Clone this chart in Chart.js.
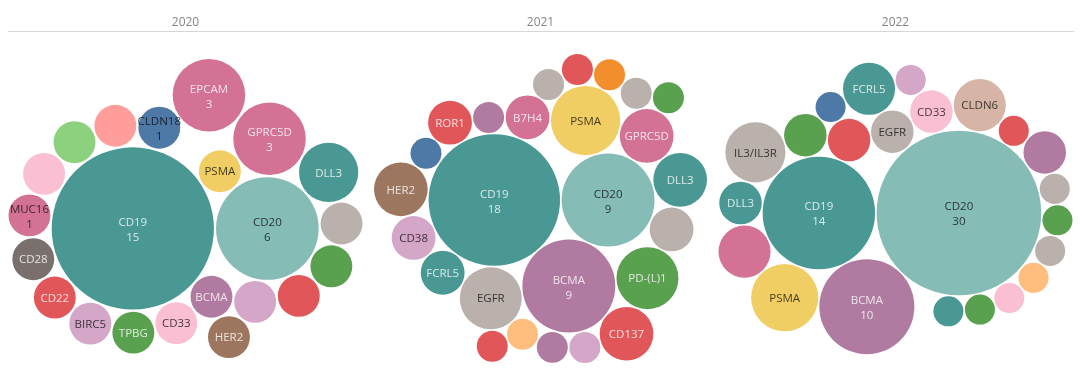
<!DOCTYPE html>
<html>
<head>
<meta charset="utf-8">
<title>Targets by year</title>
<script src="https://cdn.jsdelivr.net/npm/chart.js@4.4.1/dist/chart.umd.min.js"></script>
<style>
  html, body { margin: 0; padding: 0; background: #fff; }
  #wrap { width: 1080px; height: 373px; position: relative; }
</style>
</head>
<body>
<div id="wrap"><canvas id="chart"></canvas></div>
<script>
// ---- data ----
const YEARS = ['2020', '2021', '2022'];

// bubbles are listed in the order they are packed, '' = no label shown
const targets2020 = ['CD19', 'CD20', 'PSMA', 'GPRC5D', 'DLL3', '', '', '', '', 'BCMA', 'HER2', 'CD33',
  'TPBG', 'BIRC5', 'CD22', 'CD28', 'MUC16', '', '', '', 'CLDN18', 'EPCAM'];
const counts2020 = [15, 6, 1, 3, 2, 1, 1, 1, 1, 1, 1, 1, 1, 1, 1, 1, 1, 1, 1, 1, 1, 3];

const targets2021 = ['CD20', 'CD19', 'BCMA', 'EGFR', 'FCRL5', 'CD38', 'HER2', '', 'ROR1', '', 'B7H4', 'PSMA',
  '', '', '', 'GPRC5D', '', '', 'DLL3', '', 'PD-(L)1', 'CD137', '', '', '', ''];
const counts2021 = [9, 18, 9, 4, 2, 2, 3, 1, 2, 1, 2, 5, 1, 1, 1, 3, 1, 1, 3, 2, 4, 3, 1, 1, 1, 1];

const targets2022 = ['CD20', 'CD19', 'BCMA', 'PSMA', '', 'DLL3', 'IL3/IL3R', '', '', '', 'EGFR', 'FCRL5',
  'CD33', '', 'CLDN6', '', '', '', '', '', '', '', '', ''];
const counts2022 = [30, 14, 10, 5, 3, 2, 4, 2, 2, 1, 2, 3, 2, 1, 3, 1, 2, 1, 1, 1, 1, 1, 1, 1];

// ---- styles ----
const T = {
  blue: '#4E79A7', orange: '#F28E2B', lorange: '#FFBE7D', green: '#59A14F', lgreen: '#8CD17D',
  yellow: '#F1CE63', teal: '#499894', lteal: '#86BCB6', red: '#E15759', lred: '#FF9D9A',
  grey: '#79706E', lgrey: '#BAB0AC', pink: '#D37295', lpink: '#FABFD2', purple: '#B07AA1',
  lpurple: '#D4A6C8', brown: '#9D7660', lbrown: '#D7B5A6'
};
const colors2020 = [T.teal, T.lteal, T.yellow, T.pink, T.teal, T.lgrey, T.green, T.red, T.lpurple, T.purple,
  T.brown, T.lpink, T.green, T.lpurple, T.red, T.grey, T.pink, T.lpink, T.lgreen, T.lred, T.blue, T.pink];
const colors2021 = [T.lteal, T.teal, T.purple, T.lgrey, T.teal, T.lpurple, T.brown, T.blue, T.red, T.purple,
  T.pink, T.yellow, T.lgrey, T.red, T.orange, T.pink, T.lgrey, T.green, T.teal, T.lgrey, T.green, T.red,
  T.lpurple, T.purple, T.lorange, T.red];
const colors2022 = [T.lteal, T.teal, T.purple, T.yellow, T.pink, T.teal, T.lgrey, T.green, T.red, T.blue,
  T.lgrey, T.teal, T.lpink, T.lpurple, T.lbrown, T.red, T.purple, T.lgrey, T.green, T.lgrey, T.lorange,
  T.lpink, T.green, T.teal];

// packing hints: bubbles that sit on the outer layer instead of the running ring
const outer2020 = [10];
const outer2021 = [12, 13, 14, 16, 17];
const outer2022 = [9, 11, 13];
// small bubbles that still show their count
const extraCounts2020 = ['CLDN18', 'MUC16'];

const FONT = "'Open Sans', 'Noto Sans', sans-serif";
const LIGHT = 'rgba(255,255,255,0.8)';
const DARK = 'rgba(0,0,0,0.72)';

const panels = [
  { targets: targets2020, counts: counts2020, colors: colors2020, outer: outer2020, extra: extraCounts2020, turn: false },
  { targets: targets2021, counts: counts2021, colors: colors2021, outer: outer2021, extra: [], turn: true },
  { targets: targets2022, counts: counts2022, colors: colors2022, outer: outer2022, extra: [], turn: true }
];

// chart area in px (canvas minus side padding and the year axis)
const AREA_W = 1065, AREA_H = 342;
const PANE_W = AREA_W / YEARS.length;
const BOX_W = 354, BOX_H = 309, BOX_CY = 164.5;

// ---- front-chain circle packing ----
function place(p, q, c) {
  const dx = q.x - p.x, dy = q.y - p.y;
  const d = Math.hypot(dx, dy);
  const ra = p.r + c.r, rb = q.r + c.r;
  const t = (d * d + ra * ra - rb * rb) / (2 * d);
  const h = Math.sqrt(Math.max(0, ra * ra - t * t));
  const ux = dx / d, uy = dy / d;
  c.x = p.x + t * ux - h * uy;
  c.y = p.y + t * uy + h * ux;
}

function intersects(a, b) {
  const dr = a.r + b.r - 1e-6, dx = b.x - a.x, dy = b.y - a.y;
  return dr > 0 && dr * dr > dx * dx + dy * dy;
}

function cut(from, to) {
  let m = from.next;
  while (m !== to) { m.gone = true; m = m.next; }
  from.next = to; to.prev = from;
}

function packBubbles(counts, outer) {
  const PAD = 0.05;
  const circles = counts.map(v => ({ r: Math.sqrt(v) + PAD, x: 0, y: 0 }));
  const nodes = circles.map(c => ({ c, prev: null, next: null, gone: false }));
  circles[1].x = circles[0].r + circles[1].r;
  nodes[0].next = nodes[1]; nodes[1].prev = nodes[0];
  nodes[1].next = nodes[0]; nodes[0].prev = nodes[1];
  let a = nodes[0], b = nodes[1];

  for (let i = 2; i < circles.length; i++) {
    const isOuter = outer.includes(i);
    let p = isOuter ? a.prev : a;
    let q = isOuter ? a : b;
    const c = circles[i];
    for (;;) {
      place(p.c, q.c, c);
      if (i === 2) break;
      let j = q.next, k = p.prev, sj = q.c.r, sk = p.c.r, hit = false;
      do {
        if (sj <= sk) {
          if (intersects(j.c, c)) { cut(p, j); q = j; hit = true; break; }
          sj += j.c.r; j = j.next;
        } else {
          if (intersects(k.c, c)) { cut(k, q); p = k; hit = true; break; }
          sk += k.c.r; k = k.prev;
        }
      } while (j !== k.next);
      if (!hit) break;
    }
    const node = nodes[i];
    node.prev = p; node.next = q; p.next = node; q.prev = node;
    if (!isOuter) { a = node; b = q; }
    else if (a.gone) { a = node; b = node.next; }
    else if (b.gone) { b = a.next; }
  }
  return circles;
}

function layoutPanel(panel, pi) {
  const packed = packBubbles(panel.counts, panel.outer);
  const s = panel.turn ? -1 : 1;
  const pts = packed.map((c, i) => ({ x: s * c.x, y: s * c.y, rr: Math.sqrt(panel.counts[i]) }));
  let x0 = Infinity, x1 = -Infinity, y0 = Infinity, y1 = -Infinity;
  pts.forEach(p => {
    x0 = Math.min(x0, p.x - p.rr); x1 = Math.max(x1, p.x + p.rr);
    y0 = Math.min(y0, p.y - p.rr); y1 = Math.max(y1, p.y + p.rr);
  });
  const k = Math.min(BOX_W / (x1 - x0), BOX_H / (y1 - y0));
  const cx = (x0 + x1) / 2, cy = (y0 + y1) / 2;
  return pts.map((p, i) => ({
    x: PANE_W * (pi + 0.5) + (p.x - cx) * k,
    y: BOX_CY + (p.y - cy) * k,
    r: p.rr * k,
    name: panel.targets[i],
    count: panel.counts[i]
  }));
}

function luminance(hex) {
  const v = [1, 3, 5].map(o => parseInt(hex.substr(o, 2), 16) / 255)
    .map(c => (c <= 0.04045 ? c / 12.92 : Math.pow((c + 0.055) / 1.055, 2.4)));
  return 0.2126 * v[0] + 0.7152 * v[1] + 0.0722 * v[2];
}

// names (and counts) inside the bubbles
const bubbleLabels = {
  id: 'bubbleLabels',
  afterDatasetsDraw(chart) {
    const ctx = chart.ctx;
    ctx.save();
    ctx.font = '11.5px ' + FONT;
    ctx.textAlign = 'center';
    ctx.textBaseline = 'alphabetic';
    chart.data.datasets.forEach((ds, di) => {
      chart.getDatasetMeta(di).data.forEach((el, i) => {
        const pt = ds.data[i];
        if (!pt.name) return;
        const r = el.options.radius;
        const two = r >= 35 || ds.extraCounts.includes(pt.name);
        const w = Math.max(ctx.measureText(pt.name).width, ctx.measureText(String(pt.count)).width);
        const fits = Math.hypot(w / 2, two ? 12 : 4.5) <= r;
        ctx.fillStyle = fits && luminance(ds.backgroundColor[i]) < 0.35 ? LIGHT : DARK;
        if (two) {
          ctx.fillText(pt.name, el.x, el.y - 2.5);
          ctx.fillText(String(pt.count), el.x, el.y + 12.5);
        } else {
          ctx.fillText(pt.name, el.x, el.y + 4.2);
        }
      });
    });
    ctx.restore();
  }
};

const datasets = panels.map((panel, pi) => ({
  label: YEARS[pi],
  data: layoutPanel(panel, pi),
  backgroundColor: panel.colors,
  extraCounts: panel.extra,
  borderWidth: 0,
  hoverRadius: 0,
  clip: false
}));

new Chart(document.getElementById('chart'), {
  type: 'bubble',
  data: { datasets },
  options: {
    responsive: true,
    maintainAspectRatio: false,
    animation: false,
    events: [],
    layout: { autoPadding: false, padding: { left: 8, right: 7, top: 0, bottom: 0 } },
    plugins: { legend: { display: false }, tooltip: { enabled: false } },
    scales: {
      x: { type: 'linear', display: false, min: 0, max: AREA_W },
      y: { type: 'linear', display: false, min: 0, max: AREA_H },
      year: {
        type: 'category',
        axis: 'x',
        position: 'top',
        labels: YEARS,
        offset: true,
        grid: { display: false, drawTicks: false },
        border: { display: true, color: '#d6d6d6', width: 1 },
        ticks: { color: '#858585', font: { family: FONT, size: 12 }, padding: 1 },
        afterFit(scale) { scale.height = 31; }
      }
    }
  },
  plugins: [bubbleLabels]
});
</script>
</body>
</html>
